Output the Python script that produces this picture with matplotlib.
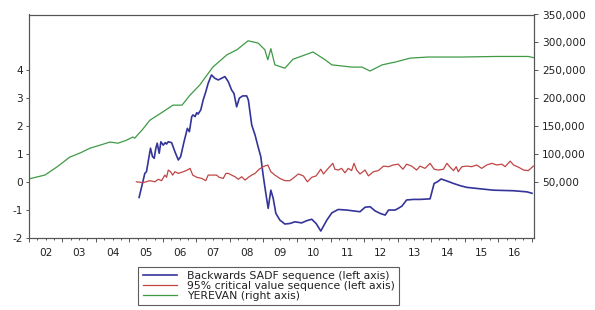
import matplotlib
matplotlib.use("Agg")
import matplotlib.pyplot as plt
from matplotlib.ticker import FuncFormatter

plt.rcParams['font.family'] = ['DejaVu Sans']

# ---- data (decimal years) ----
sadf_x = [2005.29, 2005.39, 2005.46, 2005.51, 2005.63, 2005.69, 2005.74, 2005.79, 2005.83, 2005.89,
          2005.94, 2006.01, 2006.07, 2006.11, 2006.16, 2006.26, 2006.36, 2006.46, 2006.53, 2006.63,
          2006.73, 2006.79, 2006.86, 2006.90, 2006.96, 2007.01, 2007.05, 2007.13, 2007.20, 2007.28,
          2007.35, 2007.45, 2007.55, 2007.65, 2007.75, 2007.85, 2007.95, 2008.05, 2008.12, 2008.20,
          2008.28, 2008.38, 2008.50, 2008.55, 2008.65, 2008.75, 2008.84, 2008.92, 2008.99, 2009.07,
          2009.14, 2009.22, 2009.29, 2009.37, 2009.49, 2009.64, 2009.79, 2009.94, 2010.14, 2010.29,
          2010.44, 2010.57, 2010.71, 2010.89, 2011.04, 2011.23, 2011.48, 2011.68, 2011.88, 2012.03,
          2012.18, 2012.33, 2012.48, 2012.63, 2012.73, 2012.93, 2013.02, 2013.13, 2013.27, 2013.47,
          2013.67, 2013.97, 2014.09, 2014.19, 2014.30, 2014.47, 2014.67, 2014.87, 2015.07, 2015.46,
          2015.86, 2016.46, 2016.86, 2017.01]
sadf_y = [-0.54, -0.04, 0.32, 0.38, 1.22, 0.92, 0.86, 1.22, 1.40, 1.04,
          1.45, 1.33, 1.42, 1.37, 1.45, 1.42, 1.09, 0.80, 0.92, 1.45,
          1.93, 1.81, 2.35, 2.41, 2.35, 2.49, 2.44, 2.59, 2.94, 3.24,
          3.54, 3.84, 3.72, 3.66, 3.72, 3.78, 3.60, 3.30, 3.18, 2.70,
          3.01, 3.09, 3.09, 2.94, 2.05, 1.69, 1.27, 0.92, 0.26, -0.39,
          -0.93, -0.28, -0.57, -1.11, -1.35, -1.49, -1.47, -1.41, -1.45, -1.37,
          -1.32, -1.47, -1.74, -1.35, -1.09, -0.97, -0.99, -1.02, -1.05, -0.89,
          -0.87, -1.02, -1.11, -1.17, -0.99, -0.99, -0.93, -0.85, -0.63, -0.61,
          -0.61, -0.59, -0.04, 0.02, 0.12, 0.05, -0.04, -0.12, -0.18, -0.23,
          -0.28, -0.30, -0.34, -0.39]

crit_x = [2005.21, 2005.41, 2005.61, 2005.76, 2005.86, 2005.96, 2006.06, 2006.11, 2006.16, 2006.23,
          2006.29, 2006.36, 2006.46, 2006.61, 2006.73, 2006.81, 2006.89, 2007.01, 2007.16, 2007.28,
          2007.35, 2007.50, 2007.60, 2007.68, 2007.80, 2007.88, 2007.95, 2008.05, 2008.15, 2008.25,
          2008.35, 2008.45, 2008.55, 2008.65, 2008.75, 2008.87, 2008.99, 2009.13, 2009.22, 2009.34,
          2009.49, 2009.64, 2009.79, 2009.94, 2010.04, 2010.19, 2010.31, 2010.44, 2010.57, 2010.71,
          2010.79, 2010.93, 2011.07, 2011.13, 2011.23, 2011.33, 2011.43, 2011.53, 2011.63, 2011.70,
          2011.78, 2011.88, 2012.03, 2012.13, 2012.28, 2012.43, 2012.58, 2012.73, 2012.87, 2013.02,
          2013.16, 2013.27, 2013.42, 2013.57, 2013.67, 2013.82, 2013.97, 2014.09, 2014.22, 2014.37,
          2014.47, 2014.57, 2014.67, 2014.75, 2014.81, 2014.92, 2015.07, 2015.21, 2015.36, 2015.51,
          2015.66, 2015.81, 2015.96, 2016.11, 2016.21, 2016.36, 2016.46, 2016.61, 2016.76, 2016.90,
          2017.05]
crit_y = [0.02, -0.01, 0.06, 0.02, 0.11, 0.06, 0.26, 0.18, 0.44, 0.38,
          0.26, 0.38, 0.32, 0.38, 0.44, 0.50, 0.26, 0.18, 0.14, 0.06,
          0.26, 0.26, 0.26, 0.18, 0.14, 0.32, 0.32, 0.26, 0.20, 0.11,
          0.20, 0.08, 0.18, 0.26, 0.32, 0.47, 0.56, 0.62, 0.38, 0.26,
          0.14, 0.06, 0.06, 0.20, 0.30, 0.23, 0.02, 0.18, 0.23, 0.47,
          0.30, 0.50, 0.68, 0.47, 0.44, 0.50, 0.34, 0.50, 0.42, 0.68,
          0.44, 0.30, 0.44, 0.23, 0.38, 0.42, 0.58, 0.56, 0.62, 0.65,
          0.47, 0.65, 0.58, 0.44, 0.58, 0.50, 0.68, 0.47, 0.44, 0.47,
          0.68, 0.54, 0.42, 0.56, 0.38, 0.56, 0.58, 0.56, 0.62, 0.50,
          0.62, 0.68, 0.62, 0.65, 0.56, 0.76, 0.62, 0.54, 0.44, 0.42,
          0.58]

yerevan_x = [2002.00, 2002.20, 2002.48, 2002.85, 2003.22, 2003.55, 2003.82, 2004.10, 2004.42, 2004.66,
             2004.90, 2005.10, 2005.16, 2005.40, 2005.61, 2006.00, 2006.30, 2006.57, 2006.81, 2007.10,
             2007.49, 2007.91, 2008.21, 2008.54, 2008.84, 2009.04, 2009.13, 2009.22, 2009.34, 2009.64,
             2009.88, 2010.48, 2010.84, 2011.04, 2011.64, 2011.94, 2012.18, 2012.54, 2012.93, 2013.37,
             2013.91, 2014.93, 2015.91, 2016.90, 2017.05]
yerevan_y = [56000, 59000, 63000, 78000, 95000, 103000, 111000, 116000, 122000, 120000,
             125000, 131000, 129000, 145000, 161000, 176000, 188000, 188000, 206000, 224000,
             256000, 278000, 287000, 303000, 299000, 287000, 269000, 289000, 260000, 254000,
             270000, 283000, 269000, 260000, 256000, 256000, 249000, 260000, 265000, 272000,
             274000, 274000, 275000, 275000, 273000]

year_labels = ["02", "03", "04", "05", "06", "07", "08", "09", "10", "11", "12", "13", "14", "15", "16"]
left_ticks = [-2, -1, 0, 1, 2, 3, 4]
right_ticks = [50000, 100000, 150000, 200000, 250000, 300000, 350000]

# ---- figure ----
W, H = 595, 310
fig = plt.figure(figsize=(W / 100, H / 100), dpi=100)
L, R, T, B = 28.8, 534.0, 14.5, 238.3
ax = fig.add_axes([L / W, 1 - B / H, (R - L) / W, (B - T) / H])
ax2 = ax.twinx()

c_blue = "#34349a"
c_red = "#c04545"
c_green = "#3f9a45"

l3, = ax2.plot(yerevan_x, yerevan_y, color=c_green, lw=0.9)
l1, = ax.plot(sadf_x, sadf_y, color=c_blue, lw=1.2)
l2, = ax.plot(crit_x, crit_y, color=c_red, lw=0.9)

ax.set_zorder(ax2.get_zorder() + 1)
ax.patch.set_visible(False)

ax.set_xlim(2002.0, 2017.07)
ax.set_ylim(-2, 6)
ax2.set_ylim(-50000, 350000)

ax.set_yticks(left_ticks)
ax.set_yticklabels([str(t) for t in left_ticks])
ax2.set_yticks(right_ticks)
ax2.yaxis.set_major_formatter(FuncFormatter(lambda v, p: f"{int(v):,}"))

years = list(range(2002, 2018))
ax.set_xticks(years)
ax.set_xticklabels([""] * len(years))
minor_pos, minor_lab = [], []
for i, y in enumerate(range(2002, 2017)):
    for q, lab in ((0.25, ""), (0.5, year_labels[i]), (0.75, "")):
        minor_pos.append(y + q)
        minor_lab.append(lab)
ax.set_xticks(minor_pos, minor=True)
ax.set_xticklabels(minor_lab, minor=True)

spine_c = "#555555"
for a in (ax, ax2):
    for s in a.spines.values():
        s.set_color(spine_c)
        s.set_linewidth(0.8)

fs = 7.6
ax.tick_params(axis='x', which='major', direction='out', length=3.0, width=0.7, color=spine_c)
ax.tick_params(axis='x', which='minor', direction='out', length=1.7, width=0.7, color=spine_c,
               labelsize=fs, pad=5.0, labelcolor="#222222")
ax.tick_params(axis='y', direction='out', length=2.5, width=0.7, color=spine_c,
               labelsize=fs, pad=1.5, labelcolor="#222222")
ax2.tick_params(axis='y', direction='out', length=3.0, width=0.7, color=spine_c,
                labelsize=fs, pad=3.0, labelcolor="#222222")

leg = fig.legend([l1, l2, l3],
                 ["Backwards SADF sequence (left axis)",
                  "95% critical value sequence (left axis)",
                  "YEREVAN (right axis)"],
                 loc="upper left", bbox_to_anchor=(138.3 / W, 1 - 266.7 / H),
                 borderaxespad=0, fontsize=7.8, frameon=True, fancybox=False,
                 handlelength=3.2, handletextpad=0.9, labelspacing=0.0,
                 borderpad=0.4)
leg.get_frame().set_edgecolor("#333333")
leg.get_frame().set_linewidth(0.8)
for t in leg.get_texts():
    t.set_color("#222222")

fig.savefig("out.png", dpi=100)
